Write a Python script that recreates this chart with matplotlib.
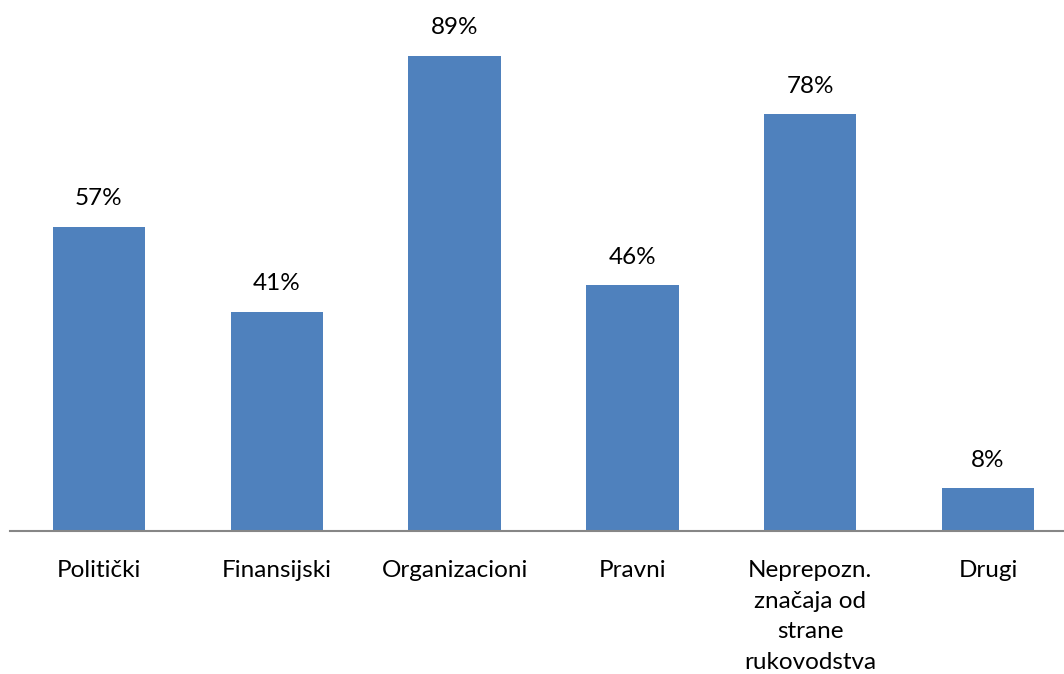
import matplotlib.pyplot as plt

categories = ["Politički", "Finansijski", "Organizacioni", "Pravni",
              "Neprepozn.\nznačaja od\nstrane\nrukovodstva", "Drugi"]
values = [57, 41, 89, 46, 78, 8]

plt.rcParams['font.family'] = ['Lato', 'DejaVu Sans']

fig = plt.figure(figsize=(10.64, 6.74), dpi=100)
ax = fig.add_axes([10 / 1064, (674 - 531) / 674, 1067 / 1064, 534 / 674])

x = range(len(categories))
bars = ax.bar(x, values, width=0.52, color='#4f81bd')
for b, v in zip(bars, values):
    ax.text(b.get_x() + b.get_width() / 2, v + 3.3, f"{v}%",
            ha='center', va='bottom', fontsize=17.5, color='#000000')

ax.set_xlim(-0.5, len(categories) - 0.5)
ax.set_ylim(0, 100)
ax.set_xticks(list(x))
ax.set_xticklabels(categories, fontsize=17.5, linespacing=1.56, va='top')
ax.tick_params(axis='x', length=0, pad=21)
ax.set_yticks([])
for s in ['top', 'left', 'right']:
    ax.spines[s].set_visible(False)
ax.spines['bottom'].set_color('#868686')
ax.spines['bottom'].set_linewidth(1.5)

fig.savefig("out.png", dpi=100)
